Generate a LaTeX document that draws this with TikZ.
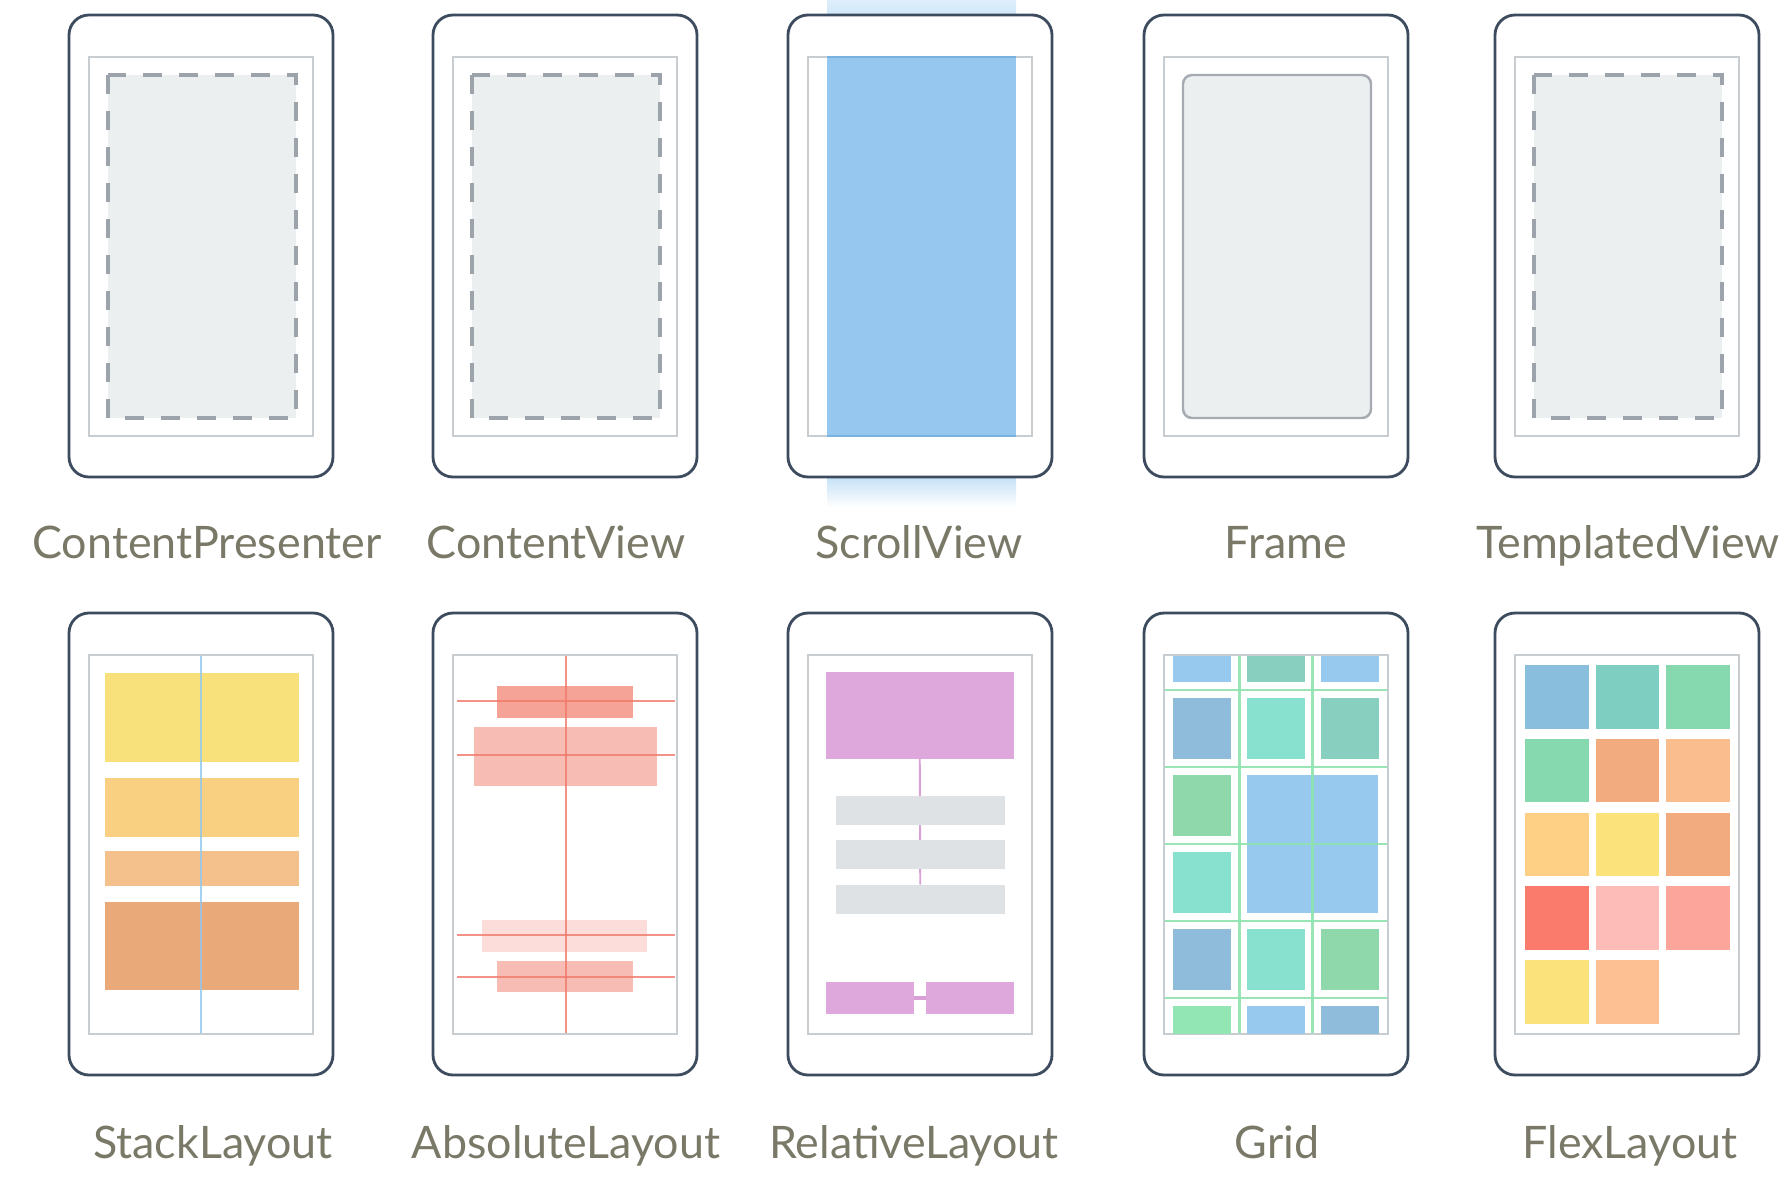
\documentclass[tikz,border=0pt]{standalone}
\usepackage{fontspec}
\setmainfont{Lato}
\usetikzlibrary{calc}

\definecolor{phoneedge}{HTML}{3D4B5E}
\definecolor{screenedge}{HTML}{C8CDD1}
\definecolor{dashgray}{HTML}{9CA3AA}
\definecolor{contentfill}{HTML}{ECEFF0}
\definecolor{framegray}{HTML}{A5ABB1}
\definecolor{captiongray}{HTML}{7A7968}
\definecolor{scrollblue}{HTML}{96C8EF}
\definecolor{scrolledge}{HTML}{78B2E0}
\definecolor{stackA}{HTML}{F8E17A}
\definecolor{stackB}{HTML}{F9D082}
\definecolor{stackC}{HTML}{F4C08B}
\definecolor{stackD}{HTML}{E9A979}
\definecolor{stackline}{HTML}{8EC8EF}
\definecolor{absA}{HTML}{F5A396}
\definecolor{absB}{HTML}{F7BDB5}
\definecolor{absC}{HTML}{FCDDD9}
\definecolor{absline}{HTML}{F0796B}
\definecolor{relpink}{HTML}{DEA8DC}
\definecolor{relgray}{HTML}{DFE2E5}
\definecolor{relline}{HTML}{D9A0D6}
\definecolor{gblue}{HTML}{97C9EF}
\definecolor{gteal}{HTML}{89CFC0}
\definecolor{gsteel}{HTML}{8FBCDB}
\definecolor{gaqua}{HTML}{88E0CF}
\definecolor{ggreen}{HTML}{8FD8AB}
\definecolor{glight}{HTML}{92E6B4}
\definecolor{gline}{HTML}{8EE3AF}
\definecolor{flexblue}{HTML}{89BEDC}
\definecolor{flexteal}{HTML}{7ECEC1}
\definecolor{flexgreen}{HTML}{86D9AE}
\definecolor{flexorange}{HTML}{F1AB7E}
\definecolor{flexpeach}{HTML}{F9BD8E}
\definecolor{flexapricot}{HTML}{FDD085}
\definecolor{flexyellow}{HTML}{FCE27B}
\definecolor{flexred}{HTML}{FA7B6B}
\definecolor{flexpink}{HTML}{FDBCB7}
\definecolor{flexsalmon}{HTML}{FCA59B}
\definecolor{flexmelon}{HTML}{FDC092}

\pgfdeclarelayer{back}
\pgfdeclarelayer{mid}
\pgfsetlayers{back,mid,main}

\newcommand{\phoneshell}{%
	\draw[phone]	(0,0) rectangle (264,462);
	\draw[screen]	(20,42) rectangle (244,421);
}

\begin{document}
\begin{tikzpicture}[x=0.02cm, y=-0.02cm,
	phone/.style={draw=phoneedge, line width=1.6pt, fill=white, rounded corners=0.4cm},
	screen/.style={draw=screenedge, line width=1.4pt},
	dashbox/.style={draw=dashgray, fill=contentfill, line width=1.9pt, dash pattern=on 0.38cm off 0.34cm},
	framebox/.style={draw=framegray, fill=contentfill, line width=1.4pt, rounded corners=0.18cm},
	caption/.style={text=captiongray, anchor=base, inner sep=0pt, font=\fontsize{25.5}{30}\selectfont},
	guide/.style={line width=1.1pt, draw opacity=0.8},
	gridline/.style={draw=gline, line width=1.6pt, draw opacity=0.9},
	relbox/.style={fill=relpink, inner sep=0pt, outer sep=0pt},
	relbar/.style={fill=relgray, inner sep=0pt, outer sep=0pt, minimum width=3.39cm, minimum height=0.58cm},
	]
	\useasboundingbox (0,0) rectangle (1788,1177);

	% top row
	\begin{scope}[shift={(69,15)}]
		\phoneshell
		\draw[dashbox]	(39,60) rectangle (227,403);
	\end{scope}
	\begin{scope}[shift={(433,15)}]
		\phoneshell
		\draw[dashbox]	(39,60) rectangle (227,403);
	\end{scope}
	\begin{scope}[shift={(788,15)}]
		\shade[top color=scrollblue!30, bottom color=scrollblue!45]	(39,-15) rectangle (228,0);
		\shade[top color=scrollblue!55, bottom color=white]		(39,462) rectangle (228,492);
		\phoneshell
		\fill[scrollblue]	(39,42) rectangle (228,421);
		\draw[scrolledge, line width=1.4pt]	(39,42) -- (228,42) (39,421) -- (228,421);
	\end{scope}
	\begin{scope}[shift={(1144,15)}]
		\phoneshell
		\draw[framebox]	(39,60) rectangle (227,403);
	\end{scope}
	\begin{scope}[shift={(1495,15)}]
		\phoneshell
		\draw[dashbox]	(39,60) rectangle (227,403);
	\end{scope}

	\node[caption] (lblpresenter) at (207,558) {ContentPresenter};
	\node[caption] (lblcontent) at (556,558) {ContentView};
	\node[caption] (lblscroll) at (919,558) {ScrollView};
	\node[caption] (lblframe) at (1286,558) {Frame};
	\node[caption] (lbltemplated) at (1628,558) {TemplatedView};

	% bottom row
	\begin{scope}[shift={(69,613)}]
		\phoneshell
		\fill[stackA]	(36,60) rectangle (230,149);
		\fill[stackB]	(36,165) rectangle (230,224);
		\fill[stackC]	(36,238) rectangle (230,273);
		\fill[stackD]	(36,289) rectangle (230,377);
		\draw[guide, stackline]	(132,43) -- (132,420);
	\end{scope}
	\begin{scope}[shift={(433,613)}]
		\phoneshell
		\fill[absB]	(40.6,114.4) rectangle (224,173);
		\fill[absA]	(64,72.5) rectangle (200,105);
		\fill[absC]	(49,307) rectangle (214,339);
		\fill[absB]	(64,348) rectangle (200,379);
		\draw[guide, absline]	(133,43) -- (133,420);
		\foreach \y in {88,142,322,364}
			\draw[guide, absline]	(24,\y) -- (242,\y);
	\end{scope}
	\begin{scope}[shift={(788,613)}]
		\begin{pgfonlayer}{back}
			\phoneshell
		\end{pgfonlayer}
		\node[relbox, minimum width=3.77cm, minimum height=1.75cm] (relbig) at (131.75,102.3) {};
		\node[relbar] (relbarA) at (132.25,197) {};
		\node[relbar] (relbarB) at (132.25,241.5) {};
		\node[relbar] (relbarC) at (132.25,286) {};
		\node[relbox, minimum width=1.76cm, minimum height=0.64cm] (relleft) at (81.5,385) {};
		\node[relbox, minimum width=1.76cm, minimum height=0.64cm] (relright) at (182,385) {};
		\begin{pgfonlayer}{mid}
			\draw[relline, line width=1.1pt]	(relbig.south) -- (relbarC.north);
		\end{pgfonlayer}
		\draw[relline, line width=2.4pt]	(relleft.east) -- (relright.west);
	\end{scope}
	\begin{scope}[shift={(1144,613)}]
		\phoneshell
		\begin{scope}
			\clip (21,43) rectangle (243,420);
			\foreach \r/\c/\cl in {0/0/gblue,0/1/gteal,0/2/gblue,1/0/gsteel,1/1/gaqua,1/2/gteal,2/0/ggreen,3/0/gaqua,4/0/gsteel,4/1/gaqua,4/2/ggreen,5/0/glight,5/1/gblue,5/2/gsteel}
				\fill[\cl]	({29+74*\c},{7.5+77*\r}) rectangle ++(58,61.5);
			\fill[gblue]	(103,161.5) rectangle (234,300);
			\foreach \y in {77,154,231,308,385}
				\draw[gridline]	(21,\y) -- (243,\y);
			\foreach \x in {95.5,168.5}
				\draw[gridline]	(\x,43) -- (\x,420);
		\end{scope}
	\end{scope}
	\begin{scope}[shift={(1495,613)}]
		\phoneshell
		\foreach \cl [count=\i from 0] in {flexblue,flexteal,flexgreen,flexgreen,flexorange,flexpeach,flexapricot,flexyellow,flexorange,flexred,flexpink,flexsalmon,flexyellow,flexmelon}{
			\pgfmathtruncatemacro{\cx}{mod(\i,3)}
			\pgfmathtruncatemacro{\cy}{div(\i,3)}
			\fill[\cl]	({30+70.7*\cx},{52+73.8*\cy}) rectangle ++(63.7,63.5);
		}
	\end{scope}

	\node[caption] (lblstack) at (213,1158) {StackLayout};
	\node[caption] (lblabsolute) at (566,1158) {AbsoluteLayout};
	\node[caption] (lblrelative) at (914,1158) {RelativeLayout};
	\node[caption] (lblgrid) at (1277,1158) {Grid};
	\node[caption] (lblflex) at (1630,1158) {FlexLayout};
\end{tikzpicture}
\end{document}
